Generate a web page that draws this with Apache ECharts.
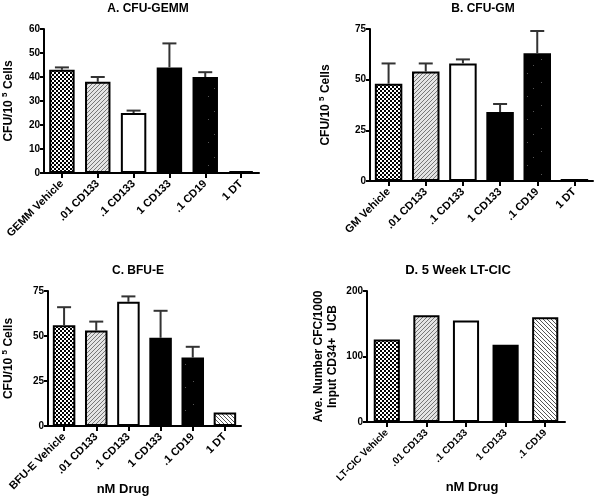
<!DOCTYPE html>
<html><head><meta charset="utf-8">
<script src="https://cdn.jsdelivr.net/npm/echarts@6/dist/echarts.min.js"></script>
<style>html,body{margin:0;padding:0;background:#fff}#c{width:600px;height:499px}</style>
</head><body><div id="c"></div>
<script>
// ---- data ----
const catsA = ['GEMM Vehicle', '.01 CD133', '.1 CD133', '1 CD133', '.1 CD19', '1 DT'];
const valsA = [43, 38, 25, 44, 40, 0.8];
const errA  = [44, 40, 26, 54, 42, 1];
const catsB = ['GM Vehicle', '.01 CD133', '.1 CD133', '1 CD133', '.1 CD19', '1 DT'];
const valsB = [48, 54, 58, 34, 63, 1];
const errB  = [58, 58, 60, 38, 74, 1];
const catsC = ['BFU-E Vehicle', '.01 CD133', '.1 CD133', '1 CD133', '.1 CD19', '1 DT'];
const valsC = [56, 53, 69, 49, 38, 7.5];
const errC  = [66, 58, 72, 64, 44, 7.5];
const catsD = ['LT-CIC Vehicle', '.01 CD133', '.1 CD133', '1 CD133', '.1 CD19'];
const valsD = [126, 163, 155, 118, 160];
const ticksA = [0, 10, 20, 30, 40, 50, 60];
const ticksBC = [0, 25, 50, 75];
const ticksD = [0, 100, 200];

// ---- patterns ----
function pat(w, h, draw) {
  const c = document.createElement('canvas'); c.width = w; c.height = h;
  const g = c.getContext('2d'); draw(g); return {image: c, repeat: 'repeat'};
}
const checker = pat(4, 4, g => { g.fillStyle = '#000'; g.fillRect(0,0,4,4); g.fillStyle = '#fff'; g.fillRect(0,0,2,2); g.fillRect(2,2,2,2); });
const fwd = pat(4, 4, g => { g.fillStyle = '#e4e4e4'; g.fillRect(0,0,4,4); g.fillStyle = '#777';
  for (let i = 0; i < 4; i++) g.fillRect(3 - i, i, 1, 1); });
const back = pat(4, 4, g => { g.fillStyle = '#fff'; g.fillRect(0,0,4,4); g.fillStyle = '#555';
  for (let i = 0; i < 4; i++) g.fillRect(i, i, 1, 1); });
const speck = pat(29, 23, g => { g.fillStyle = '#000'; g.fillRect(0,0,29,23); g.fillStyle = '#555';
  g.fillRect(5,4,1,1); g.fillRect(19,13,1,1); g.fillRect(11,19,1,1); });
const fillsA = [checker, fwd, '#fff', '#000', speck, '#000'];
const fillsB = [checker, fwd, '#fff', '#000', speck, '#000'];
const fillsC = [checker, fwd, '#fff', '#000', speck, back];
const fillsD = [checker, fwd, '#fff', '#000', back];

const FF = 'Liberation Sans, Arial, sans-serif';
const grids = [
  {left: 40, right: 341, top: 29, bottom: 326},
  {left: 370, right: 7, top: 29, bottom: 318},
  {left: 42, right: 359, top: 291, bottom: 73},
  {left: 367, right: 35, top: 291, bottom: 77}
];
const axisLine = {show: true, lineStyle: {color: '#000', width: 2}};
function xAx(i, cats, fs) {
  return {type: 'category', gridIndex: i, data: cats, axisLine,
    axisTick: {show: true, alignWithLabel: true, length: 5, lineStyle: {color: '#000', width: 2}},
    axisLabel: {rotate: 45, color: '#000', fontWeight: 'bold', fontSize: fs, fontFamily: FF, margin: 9, interval: 0}};
}
function yAx(i, ticks, name, gap) {
  return {type: 'value', gridIndex: i, min: ticks[0], max: ticks[ticks.length-1], interval: ticks[1]-ticks[0],
    axisLine, splitLine: {show: false},
    axisTick: {show: true, length: 4, lineStyle: {color: '#000', width: 2}},
    axisLabel: {color: '#000', fontWeight: 'bold', fontSize: 10, fontFamily: FF, margin: 4},
    name, nameLocation: 'middle', nameGap: gap, nameRotate: 90,
    nameTextStyle: {color: '#000', fontWeight: 'bold', fontSize: 12, fontFamily: FF, lineHeight: 14,
      rich: {s: {fontSize: 8, fontWeight: 'bold', fontFamily: FF, color: '#000', padding: [0, 0, 8, 0]}}}};
}
function barSeries(i, vals, fills, bw) {
  return {type: 'bar', xAxisIndex: i, yAxisIndex: i, barWidth: bw,
    data: vals.map((v, k) => ({value: v, itemStyle: {color: fills[k]}})),
    itemStyle: {borderColor: '#000', borderWidth: 2}, z: 2};
}
function errSeries(i, vals, errs) {
  return {type: 'custom', xAxisIndex: i, yAxisIndex: i, z: 3,
    data: vals.map((v, k) => [k, v, errs[k]]),
    renderItem: (params, api) => {
      const p0 = api.coord([api.value(0), api.value(1)]);
      const p1 = api.coord([api.value(0), api.value(2)]);
      if (p0[1] - p1[1] < 2) return null;
      const st = {stroke: '#333', lineWidth: 2};
      return {type: 'group', children: [
        {type: 'line', shape: {x1: p0[0], y1: p0[1], x2: p1[0], y2: p1[1]}, style: st},
        {type: 'line', shape: {x1: p1[0] - 7, y1: p1[1], x2: p1[0] + 7, y2: p1[1]}, style: st}
      ]};
    }};
}
const yName = 'CFU/10 {s|5} Cells';
const option = {
  animation: false,
  textStyle: {fontFamily: FF},
  grid: grids,
  xAxis: [xAx(0, catsA, 11), xAx(1, catsB, 11), xAx(2, catsC, 11), xAx(3, catsD, 10)],
  yAxis: [yAx(0, ticksA, yName, 28), yAx(1, ticksBC, yName, 37), yAx(2, ticksBC, yName, 32),
          yAx(3, ticksD, 'Ave. Number CFC/1000\nInput CD34+  UCB', 27)],
  series: [
    barSeries(0, valsA, fillsA, '71%'), errSeries(0, valsA, errA),
    barSeries(1, valsB, fillsB, '74%'), errSeries(1, valsB, errB),
    barSeries(2, valsC, fillsC, '70%'), errSeries(2, valsC, errC),
    barSeries(3, valsD, fillsD, '66%')
  ],
  graphic: [
    {type: 'text', x: 148, y: 9, style: {text: 'A. CFU-GEMM', fontSize: 12, fontWeight: 'bold', fontFamily: FF, fill: '#000', align: 'center', verticalAlign: 'middle'}},
    {type: 'text', x: 483, y: 9, style: {text: 'B. CFU-GM', fontSize: 12, fontWeight: 'bold', fontFamily: FF, fill: '#000', align: 'center', verticalAlign: 'middle'}},
    {type: 'text', x: 138, y: 271, style: {text: 'C. BFU-E', fontSize: 12, fontWeight: 'bold', fontFamily: FF, fill: '#000', align: 'center', verticalAlign: 'middle'}},
    {type: 'text', x: 458, y: 270, style: {text: 'D. 5 Week LT-CIC', fontSize: 13, fontWeight: 'bold', fontFamily: FF, fill: '#000', align: 'center', verticalAlign: 'middle'}},
    {type: 'text', x: 123, y: 489, style: {text: 'nM Drug', fontSize: 13, fontWeight: 'bold', fontFamily: FF, fill: '#000', align: 'center', verticalAlign: 'middle'}},
    {type: 'text', x: 472, y: 487, style: {text: 'nM Drug', fontSize: 13, fontWeight: 'bold', fontFamily: FF, fill: '#000', align: 'center', verticalAlign: 'middle'}}
  ]
};
echarts.init(document.getElementById('c'), null, {renderer: 'canvas'}).setOption(option);
</script></body></html>
